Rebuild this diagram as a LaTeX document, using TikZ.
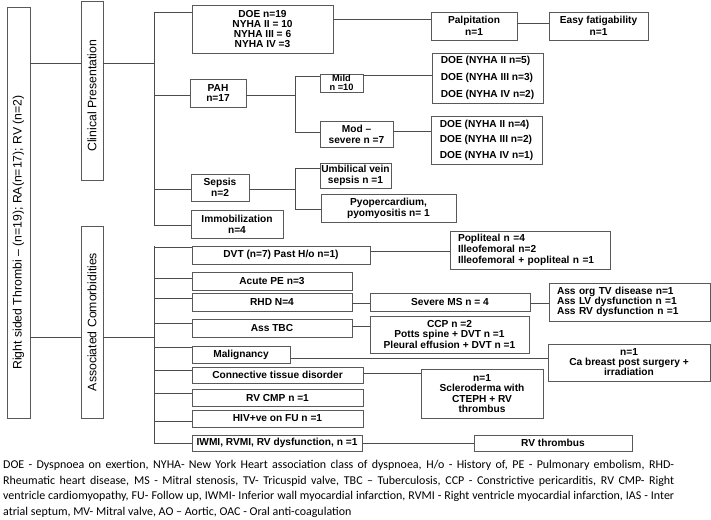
\documentclass[tikz,border=0pt]{standalone}
\usepackage{fontspec}
\setmainfont{Liberation Sans}
\newfontfamily\legendfont{Carlito}
\newcommand{\boxfont}[1]{\fontsize{10.2}{#1}\selectfont\bfseries}
\newcommand{\sidefont}{\fontsize{12.3}{14}\selectfont}

\begin{document}
\begin{tikzpicture}[x=1bp, y=-1bp,
    box/.style={draw=black!65, line width=0.8bp, inner sep=0pt, align=center, font=\boxfont{11}},
    side/.style={box, rotate=90, font=\sidefont},
    link/.style={draw=black!70, line width=0.8bp},
    legend/.style={inner sep=0pt, align=left, font={\legendfont\fontsize{12}{15.7}\selectfont}}]
  \useasboundingbox (0,0) rectangle (711,520);

  % root and the two groups
  \node[side, minimum width=411bp, minimum height=23bp](root) at (18.5, 212.5){Right sided Thrombi – (n=19); RA(n=17); RV (n=2)\hspace*{40bp}};
  \node[side, minimum width=178.5bp, minimum height=22bp](clin) at (92, 90.75){Clinical Presentation\hspace*{10bp}};
  \node[side, minimum width=192bp, minimum height=22bp](assoc) at (92, 322){Associated Comorbidities};
  \draw[link] (root.south |- 0,63) -- (clin.north |- 0,63);
  \draw[link] (root.south |- 0,337) -- (assoc.north |- 0,337);

  % clinical presentation
  \node[box, minimum width=141bp, minimum height=48bp, font=\boxfont{10}](doe) at (262.5, 29){DOE n=19\\NYHA II = 10\\NYHA III = 6\\NYHA IV =3};
  \node[box, minimum width=86bp, minimum height=28bp, font=\boxfont{11.7}](palp) at (474, 26){Palpitation\\n=1};
  \node[box, minimum width=99bp, minimum height=28bp, font=\boxfont{11.7}](easy) at (598.5, 26){Easy fatigability\\n=1};
  \node[box, minimum width=56bp, minimum height=28bp](pah) at (218, 93){PAH\\n=17};
  \node[box, minimum width=43bp, minimum height=18bp, font=\fontsize{9.3}{9}\selectfont\bfseries](mild) at (341.5, 83){Mild\\n =10};
  \node[box, minimum width=73bp, minimum height=26bp](mod) at (356.5, 134){Mod –\\severe n =7};
  \node[box, align=left, minimum width=111bp, minimum height=50bp, font=\boxfont{17}](doea) at (487.5, 78){DOE (NYHA II n=5)\\DOE (NYHA III n=3)\\DOE (NYHA IV n=2)};
  \node[box, align=left, minimum width=111bp, minimum height=48bp, font=\boxfont{15.5}](doeb) at (486.5, 140){DOE (NYHA II n=4)\\DOE (NYHA III n=2)\\DOE (NYHA IV n=1)};
  \node[box, minimum width=58bp, minimum height=27bp](sepsis) at (220, 187.5){Sepsis\\n=2};
  \node[box, minimum width=71bp, minimum height=25bp](umb) at (355.5, 175.5){Umbilical vein\\sepsis n =1};
  \node[box, minimum width=135bp, minimum height=28bp](pyo) at (388.5, 208){Pyopercardium,\\pyomyositis n= 1};
  \node[box, minimum width=92bp, minimum height=28bp](immob) at (237, 224){Immobilization\\n=4};

  \draw[link] (154,12) -- (154,225);
  \draw[link] (clin.south |- 0,63) -- (154,63);
  \foreach \n/\y in {doe/12, pah/95, sepsis/189, immob/225}
    \draw[link] (154,\y) -- (\n.west |- 0,\y);
  \draw[link] (doe.east |- 0,19) -- (palp.west |- 0,19);
  \draw[link] (palp.east |- 0,23) -- (easy.west |- 0,23);
  % pah split
  \draw[link] (pah.east |- 0,95) -- (295,95);
  \draw[link] (295,76) -- (295,132);
  \draw[link] (295,76) -- (mild.west |- 0,76);
  \draw[link] (295,132) -- (mod.west |- 0,132);
  \draw[link] (mild.east |- 0,75) -- (doea.west |- 0,75);
  \draw[link] (mod.east |- 0,131) -- (doeb.west |- 0,131);
  % sepsis split
  \draw[link] (sepsis.east |- 0,189) -- (295,189);
  \draw[link] (295,168) -- (295,209);
  \draw[link] (295,168) -- (umb.west |- 0,168);
  \draw[link] (295,209) -- (pyo.west |- 0,209);

  % associated comorbidities
  \node[box, minimum width=178bp, minimum height=18bp](dvt) at (281, 255){DVT (n=7) Past H/o n=1)};
  \node[box, align=left, text width=144bp, minimum width=160bp, minimum height=38bp](popl) at (530, 250){Popliteal n =4\\Illeofemoral n=2\\Illeofemoral + popliteal n =1};
  \node[box, minimum width=160bp, minimum height=18bp](ape) at (272, 281){Acute PE n=3};
  \node[box, minimum width=160bp, minimum height=18bp](rhd) at (272, 302){RHD N=4};
  \node[box, minimum width=160bp, minimum height=18bp](sms) at (450, 302){Severe MS n = 4};
  \node[box, align=left, text width=145bp, minimum width=161bp, minimum height=38bp, font=\boxfont{10.2}](assorg) at (629.5, 302){Ass org TV disease n=1\\Ass LV dysfunction n =1\\Ass RV dysfunction n =1};
  \node[box, minimum width=160bp, minimum height=18bp](tbc) at (272, 328){Ass TBC};
  \node[box, minimum width=159bp, minimum height=37bp](ccp) at (449.5, 334.5){CCP n =2\\Potts spine + DVT n =1\\Pleural effusion + DVT n =1};
  \node[box, minimum width=98bp, minimum height=17bp](malig) at (241, 354.5){Malignancy};
  \node[box, minimum width=162bp, minimum height=37bp, font=\boxfont{10}](cabr) at (629, 362.5){n=1\\Ca breast post surgery +\\irradiation};
  \node[box, minimum width=171bp, minimum height=16bp](ctd) at (277.5, 375){Connective tissue disorder};
  \node[box, minimum width=122bp, minimum height=49bp, font=\boxfont{10.5}](scl) at (482, 393.5){n=1\\Scleroderma with\\CTEPH + RV\\thrombus};
  \node[box, minimum width=171bp, minimum height=17bp](rvcmp) at (277.5, 397.5){RV CMP n =1};
  \node[box, minimum width=171bp, minimum height=17bp](hiv) at (277.5, 418.5){HIV+ve on FU n =1};
  \node[box, minimum width=170bp, minimum height=16bp](iwmi) at (277, 443){IWMI, RVMI, RV dysfunction, n =1};
  \node[box, minimum width=158bp, minimum height=16bp](rvthr) at (553, 443){RV thrombus};

  \draw[link] (154,246) -- (154,443);
  \draw[link] (assoc.south |- 0,337) -- (154,337);
  \foreach \n/\y in {dvt/247, ape/278, rhd/298, tbc/323, malig/347, ctd/370, rvcmp/393, hiv/421, iwmi/443}
    \draw[link] (154,\y) -- (\n.west |- 0,\y);
  \draw[link] (dvt.east |- 0,251) -- (popl.west |- 0,251);
  \draw[link] (rhd.east |- 0,303) -- (sms.west |- 0,303);
  \draw[link] (sms.east |- 0,303) -- (assorg.west |- 0,303);
  \draw[link] (tbc.east |- 0,326) -- (ccp.west |- 0,326);
  \draw[link] (malig.east |- 0,358) -- (cabr.west |- 0,358);
  \draw[link] (ctd.east |- 0,373) -- (scl.west |- 0,373);
  \draw[link] (iwmi.east) -- (rvthr.west);

  % abbreviations
  \node[legend, anchor=north west](abbr) at (3, 460){%
    \makebox[671bp][s]{DOE - Dyspnoea on exertion, NYHA- New York Heart association class of dyspnoea, H/o - History of, PE - Pulmonary embolism, RHD-}\\
    \makebox[671bp][s]{Rheumatic heart disease, MS - Mitral stenosis, TV- Tricuspid valve, TBC – Tuberculosis, CCP - Constrictive pericarditis, RV CMP- Right}\\
    \makebox[671bp][s]{ventricle cardiomyopathy, FU- Follow up, IWMI- Inferior wall myocardial infarction, RVMI - Right ventricle myocardial infarction, IAS - Inter}\\
    atrial septum, MV- Mitral valve, AO – Aortic, OAC - Oral anti-coagulation};
\end{tikzpicture}
\end{document}
